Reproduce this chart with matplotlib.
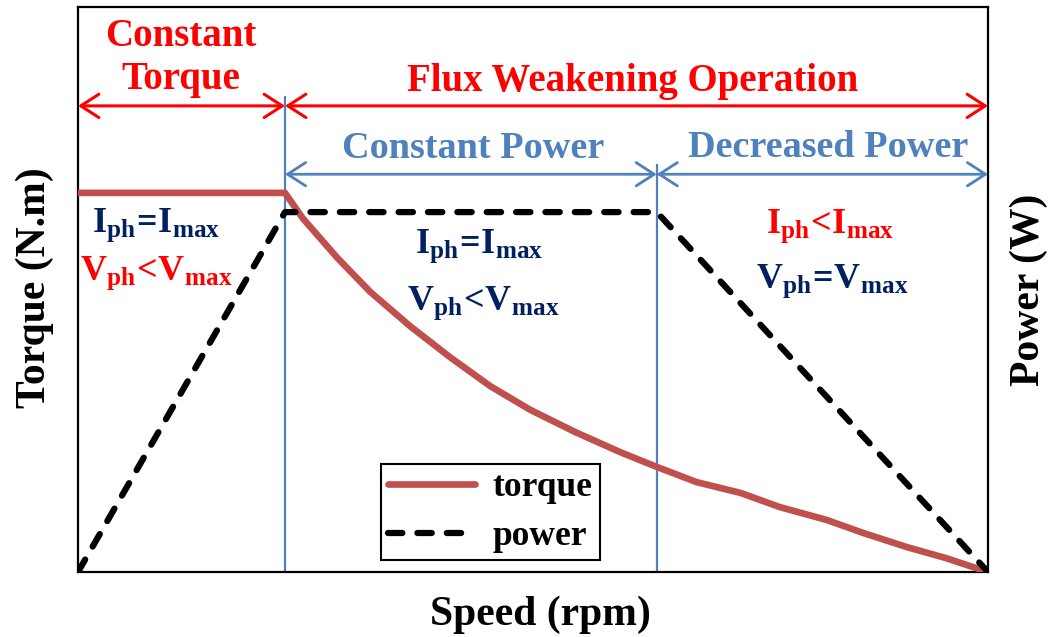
import matplotlib
matplotlib.use("Agg")
import matplotlib.pyplot as plt

plt.rcParams["font.family"] = ["Liberation Serif", "DejaVu Serif"]
plt.rcParams["font.weight"] = "bold"
plt.rcParams["mathtext.fontset"] = "custom"
plt.rcParams["mathtext.rm"] = "Liberation Serif:bold"
plt.rcParams["mathtext.bf"] = "Liberation Serif:bold"
plt.rcParams["mathtext.it"] = "Liberation Serif:bold"
plt.rcParams["mathtext.default"] = "bf"

# Torque-speed characteristic (normalised units, 0-100)
torque_speed = [0, 22.75, 24.7, 28.5, 32.1, 36.5, 40.9, 45.3, 49.7, 54.6, 59.6,
                63.6, 68.0, 72.8, 77.1, 82.3, 86.3, 91.1, 95.3, 100]
torque = [67.1, 67.1, 62.6, 55.6, 49.6, 43.5, 38.0, 32.9, 28.7, 24.8, 21.2,
          18.6, 15.9, 14.0, 11.5, 9.2, 6.9, 4.4, 2.5, 0]

# Power-speed characteristic
power_speed = [0, 22.75, 63.6, 100]
power = [0, 63.7, 63.7, 0]

# Region boundaries
base_speed = 22.75
cp_end_speed = 63.6
max_speed = 100

TORQUE_C = "#C0504D"
BLUE = "#4F81BD"
RED = "#FF0000"
NAVY = "#002060"

fig = plt.figure(figsize=(10.52, 6.37), dpi=100)
ax = fig.add_axes([78 / 1052, 65 / 637, 910 / 1052, 565 / 637])
ax.set_xlim(0, 100)
ax.set_ylim(0, 100)
ax.set_xticks([])
ax.set_yticks([])
for s in ax.spines.values():
    s.set_linewidth(1.6)
    s.set_color("black")

# Region separators
ax.plot([base_speed, base_speed], [0, 84], color=BLUE, lw=1.6, zorder=2)
ax.plot([cp_end_speed, cp_end_speed], [0, 72], color=BLUE, lw=1.6, zorder=2)

ax.plot(torque_speed, torque, color=TORQUE_C, lw=4.8, solid_capstyle="round",
        solid_joinstyle="round", label="torque", zorder=3)
ax.plot(power_speed, power, color="black", lw=4.5, dashes=(2.3, 2.4),
        dash_capstyle="round", label="power", zorder=4)


def span_arrow(x0, x1, y, color, lw):
    ax.annotate("", xy=(x1, y), xytext=(x0, y),
                arrowprops=dict(arrowstyle="<->,head_length=0.65,head_width=0.42",
                                color=color, lw=lw, shrinkA=0, shrinkB=0,
                                mutation_scale=20), zorder=5)


span_arrow(0, base_speed, 82.5, RED, 2.2)
span_arrow(base_speed, max_speed, 82.5, RED, 2.2)
span_arrow(base_speed, cp_end_speed, 70.4, BLUE, 2.0)
span_arrow(cp_end_speed, max_speed, 70.4, BLUE, 2.0)

ax.text(11.3, 91.0, "Constant\nTorque", color=RED, fontsize=28, ha="center",
        va="center", linespacing=1.2)
ax.text(61.0, 85.1, "Flux Weakening Operation", color=RED, fontsize=28,
        ha="center", va="baseline")
ax.text(43.4, 73.3, "Constant Power", color=BLUE, fontsize=27.5,
        ha="center", va="baseline")
ax.text(82.4, 73.5, "Decreased Power", color=BLUE, fontsize=27.5,
        ha="center", va="baseline")

fs = 26
ax.text(8.6, 60.2, r"$I_{ph}\!=\!I_{max}$", color=NAVY, fontsize=fs, ha="center", va="baseline")
ax.text(8.6, 51.7, r"$V_{ph}\!<\!V_{max}$", color=RED, fontsize=fs, ha="center", va="baseline")
ax.text(44.1, 56.5, r"$I_{ph}\!=\!I_{max}$", color=NAVY, fontsize=fs, ha="center", va="baseline")
ax.text(44.5, 46.4, r"$V_{ph}\!<\!V_{max}$", color=NAVY, fontsize=fs, ha="center", va="baseline")
ax.text(82.7, 60.0, r"$I_{ph}\!<\!I_{max}$", color=RED, fontsize=fs, ha="center", va="baseline")
ax.text(82.9, 50.3, r"$V_{ph}\!=\!V_{max}$", color=NAVY, fontsize=fs, ha="center", va="baseline")

leg = ax.legend(loc="lower left", bbox_to_anchor=(0.333, 0.021), borderaxespad=0,
                fontsize=25.5, handlelength=2.45, handletextpad=0.5,
                labelspacing=0.45, borderpad=0.2, fancybox=False, framealpha=1)
leg.get_frame().set_edgecolor("black")
leg.get_frame().set_linewidth(1.5)

fig.text(540 / 1052, 12 / 637, "Speed (rpm)", fontsize=30, ha="center", va="baseline")
fig.text(35 / 1052, 1 - 288 / 637, "Torque (N.m)", fontsize=30, ha="center",
         va="center", rotation=90)
fig.text(1029 / 1052, 1 - 290 / 637, "Power (W)", fontsize=30, ha="center",
         va="center", rotation=90)

fig.savefig("out.png", dpi=100)
